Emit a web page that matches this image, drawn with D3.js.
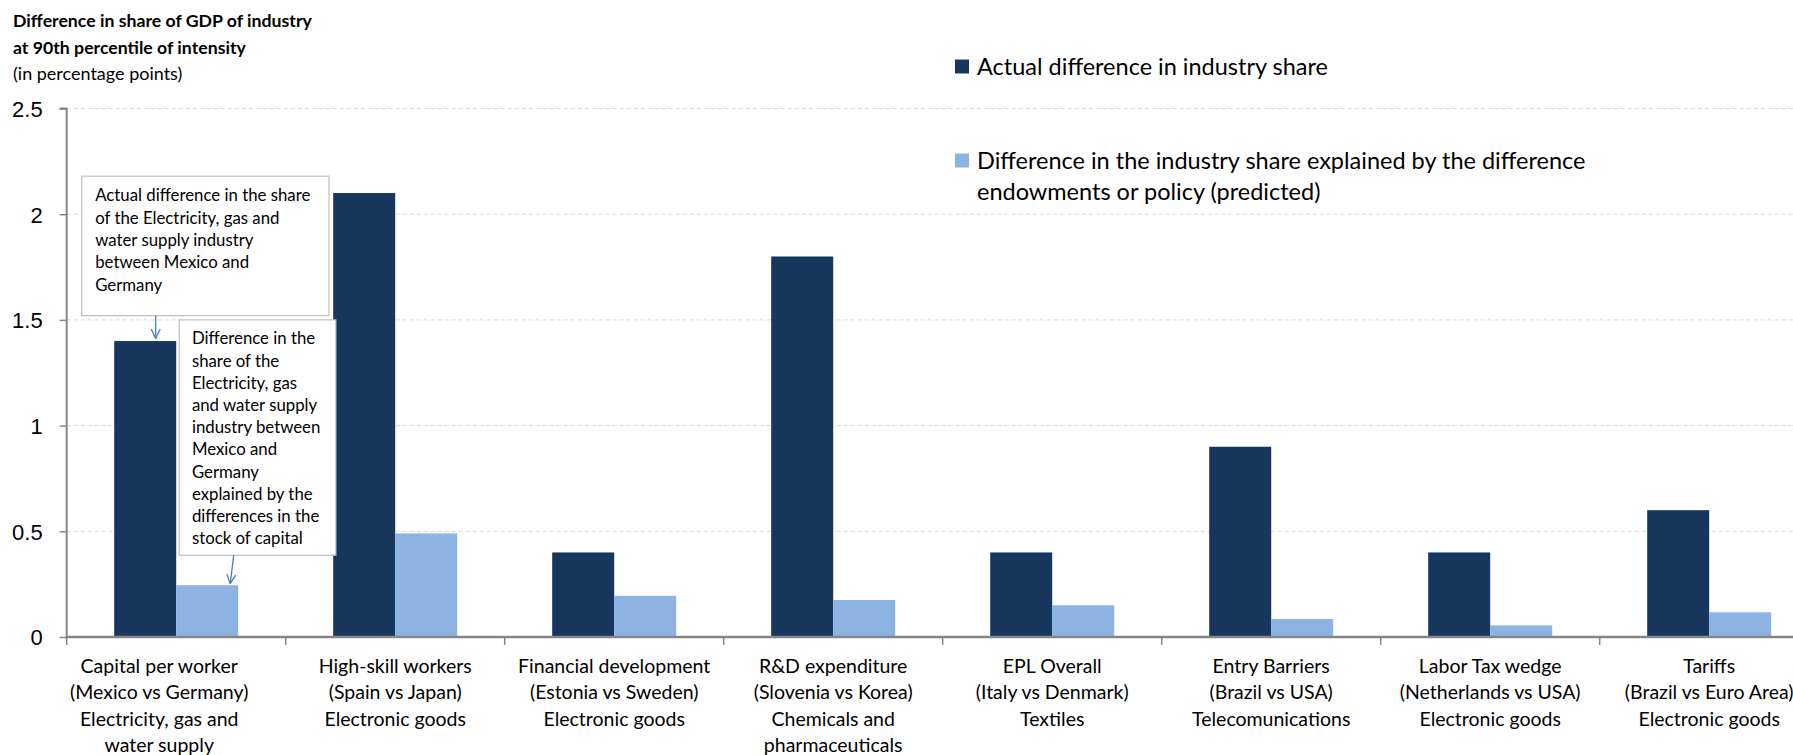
<!DOCTYPE html>
<html>
<head>
<meta charset="utf-8">
<script src="https://cdn.jsdelivr.net/npm/d3@7"></script>
<style>
  html, body { margin: 0; padding: 0; background: #fff; }
  svg { display: block; font-family: Lato, "Open Sans", sans-serif; }
</style>
</head>
<body>
<svg width="1793" height="755"></svg>
<script>
const categories = ["Capital", "High-skill", "Financial", "R&D", "EPL", "Entry", "Labor", "Tariffs"];
const labelLines = [
  ["Capital per worker", "(Mexico vs Germany)", "Electricity, gas and", "water supply"],
  ["High-skill workers", "(Spain vs Japan)", "Electronic goods"],
  ["Financial development", "(Estonia vs Sweden)", "Electronic goods"],
  ["R&D expenditure", "(Slovenia vs Korea)", "Chemicals and", "pharmaceuticals"],
  ["EPL Overall", "(Italy vs Denmark)", "Textiles"],
  ["Entry Barriers", "(Brazil vs USA)", "Telecomunications"],
  ["Labor Tax wedge", "(Netherlands vs USA)", "Electronic goods"],
  ["Tariffs", "(Brazil vs Euro Area)", "Electronic goods"]
];
const actual = [1.4, 2.1, 0.4, 1.8, 0.4, 0.9, 0.4, 0.6];
const predicted = [0.245, 0.49, 0.195, 0.175, 0.15, 0.085, 0.055, 0.117];
const yTicks = [0, 0.5, 1, 1.5, 2, 2.5];
const seriesNames = ["actual", "predicted"];
const legendLines = [
  ["Actual difference in industry share"],
  ["Difference in the industry share explained by the difference", "endowments or policy (predicted)"]
];
const note1 = ["Actual difference in the share", "of the Electricity, gas and", "water supply industry", "between  Mexico and", "Germany"];
const note2 = ["Difference in the", "share of the", "Electricity, gas", "and water supply", "industry between", "Mexico and", "Germany", "explained by the", "differences in the", "stock of capital"];

const colors = { actual: "#17375e", predicted: "#8db3e2" };

const svg = d3.select("svg");
const plotLeft = 66.7, plotBottom = 637, plotTop = 108.5, band = 219;

const x = d3.scaleBand()
  .domain(categories)
  .range([plotLeft, plotLeft + band * categories.length])
  .padding(0);

const x1 = d3.scaleBand()
  .domain(seriesNames)
  .range([0, x.bandwidth()])
  .paddingInner(0)
  .paddingOuter(0.766);

const y = d3.scaleLinear().domain([0, 2.5]).range([plotBottom, plotTop]);

// Gridlines
svg.append("g")
  .selectAll("line")
  .data(yTicks.filter(d => d > 0))
  .enter().append("line")
  .attr("x1", plotLeft)
  .attr("x2", 1793)
  .attr("y1", d => y(d))
  .attr("y2", d => y(d))
  .attr("stroke", "#d9d9d9")
  .attr("stroke-width", 1)
  .attr("stroke-dasharray", "4,3");

// Bars
const rows = categories.map((c, i) => ({ cat: c, actual: actual[i], predicted: predicted[i] }));
svg.append("g")
  .selectAll("g")
  .data(rows)
  .enter().append("g")
  .attr("transform", d => `translate(${x(d.cat)},0)`)
  .selectAll("rect")
  .data(d => seriesNames.map(s => ({ s, v: d[s] })))
  .enter().append("rect")
  .attr("x", d => x1(d.s))
  .attr("y", d => y(d.v))
  .attr("width", x1.bandwidth())
  .attr("height", d => y(0) - y(d.v))
  .attr("fill", d => colors[d.s]);

// Y axis
const yAxis = svg.append("g")
  .attr("transform", `translate(${plotLeft},0)`)
  .call(d3.axisLeft(y).tickValues(yTicks).tickFormat(d => d).tickSize(7).tickPadding(17));
yAxis.select(".domain").attr("stroke", "#868686").attr("stroke-width", 2).attr("d", `M-7,${plotTop}H0V${plotBottom}`);
yAxis.selectAll(".tick line").attr("stroke", "#868686").attr("stroke-width", 1.5);
yAxis.selectAll(".tick text")
  .attr("fill", "#000")
  .style("font-size", "22px")
  .attr("dy", "0.36em");

// X axis
const xAxis = svg.append("g")
  .attr("transform", `translate(0,${plotBottom})`)
  .call(d3.axisBottom(x).tickSize(0).tickFormat(""));
xAxis.select(".domain").attr("stroke", "#868686").attr("stroke-width", 2.5).attr("d", `M${plotLeft},0H1793`);
xAxis.selectAll(".tick").remove();
xAxis.selectAll(".sep")
  .data(categories)
  .enter().append("line")
  .attr("x1", d => x(d))
  .attr("x2", d => x(d))
  .attr("y1", 0)
  .attr("y2", 8)
  .attr("stroke", "#868686")
  .attr("stroke-width", 1.5);

// Category labels (Excel nudges the first one toward the axis)
const labelX = (d, i) => x(d) + x.bandwidth() / 2 - (i === 0 ? 17 : 0);
svg.append("g")
  .selectAll("text")
  .data(categories)
  .enter().append("text")
  .attr("x", labelX)
  .attr("y", 673)
  .attr("text-anchor", "middle")
  .style("font-size", "19.5px")
  .attr("fill", "#000")
  .each(function(d, i) {
    d3.select(this).selectAll("tspan")
      .data(labelLines[i])
      .enter().append("tspan")
      .attr("x", labelX(d, i))
      .attr("dy", (t, j) => j === 0 ? 0 : 26.3)
      .text(t => t);
  });

// Title
const title = svg.append("text").attr("x", 13).attr("y", 27).attr("fill", "#000");
title.append("tspan").attr("x", 13).style("font-weight", "bold").style("font-size", "17.7px")
  .text("Difference in share of GDP of industry");
title.append("tspan").attr("x", 13).attr("dy", 26.5).style("font-weight", "bold").style("font-size", "17.7px")
  .text("at 90th percentile of intensity");
title.append("tspan").attr("x", 13).attr("dy", 26).style("font-size", "18px")
  .text("(in percentage points)");

// Legend
const legend = svg.append("g");
const legendY = [66.5, 160.5];
seriesNames.forEach((s, i) => {
  legend.append("rect")
    .attr("x", 955)
    .attr("y", legendY[i] - 7)
    .attr("width", 14)
    .attr("height", 14)
    .attr("fill", colors[s]);
  const t = legend.append("text")
    .attr("x", 977)
    .attr("y", legendY[i] + 8)
    .style("font-size", "23.5px")
    .attr("fill", "#000");
  legendLines[i].forEach((line, j) => {
    t.append("tspan").attr("x", 977).attr("dy", j === 0 ? 0 : 31).text(line);
  });
});

// Arrow marker
svg.append("defs").append("marker")
  .attr("id", "arrow")
  .attr("viewBox", "0 0 10 10")
  .attr("refX", 9.5)
  .attr("refY", 5)
  .attr("markerWidth", 10)
  .attr("markerHeight", 10)
  .attr("markerUnits", "userSpaceOnUse")
  .attr("orient", "auto")
  .append("path")
  .attr("d", "M0,0.5L9.5,5L0,9.5")
  .attr("fill", "none")
  .attr("stroke", "#4a7ebb")
  .attr("stroke-width", 1.3);

function note(lines, bx, by, bw, bh, tx, ty0, lh) {
  const g = svg.append("g");
  g.append("rect")
    .attr("x", bx).attr("y", by)
    .attr("width", bw).attr("height", bh)
    .attr("fill", "#fff")
    .attr("stroke", "#bfbfbf")
    .attr("stroke-width", 1.2);
  g.append("g").selectAll("text")
    .data(lines)
    .enter().append("text")
    .attr("x", tx)
    .attr("y", (d, i) => ty0 + i * lh)
    .style("font-size", "16.8px")
    .attr("fill", "#000")
    .text(d => d);
  return g;
}

const c0 = categories[0];
const aX = x(c0) + x1("actual");
const pX = x(c0) + x1("predicted");

// Note 1 (actual)
note(note1, aX - 32.5, y(2.18), 247.3, y(1.52) - y(2.18), aX - 19, y(2.18) + 25, 22.4);
svg.append("line")
  .attr("x1", aX + 41.5).attr("y1", y(1.52))
  .attr("x2", aX + 41.5).attr("y2", y(actual[0]) - 2.5)
  .attr("stroke", "#4a7ebb").attr("stroke-width", 1.3)
  .attr("marker-end", "url(#arrow)");

// Note 2 (predicted)
note(note2, pX + 3, y(1.5), 156.7, y(0.387) - y(1.5), pX + 15.7, y(1.5) + 24.5, 22.2);
svg.append("line")
  .attr("x1", pX + 57.5).attr("y1", y(0.387))
  .attr("x2", pX + 54).attr("y2", y(predicted[0]) - 1.5)
  .attr("stroke", "#4a7ebb").attr("stroke-width", 1.3)
  .attr("marker-end", "url(#arrow)");
</script>
</body>
</html>
